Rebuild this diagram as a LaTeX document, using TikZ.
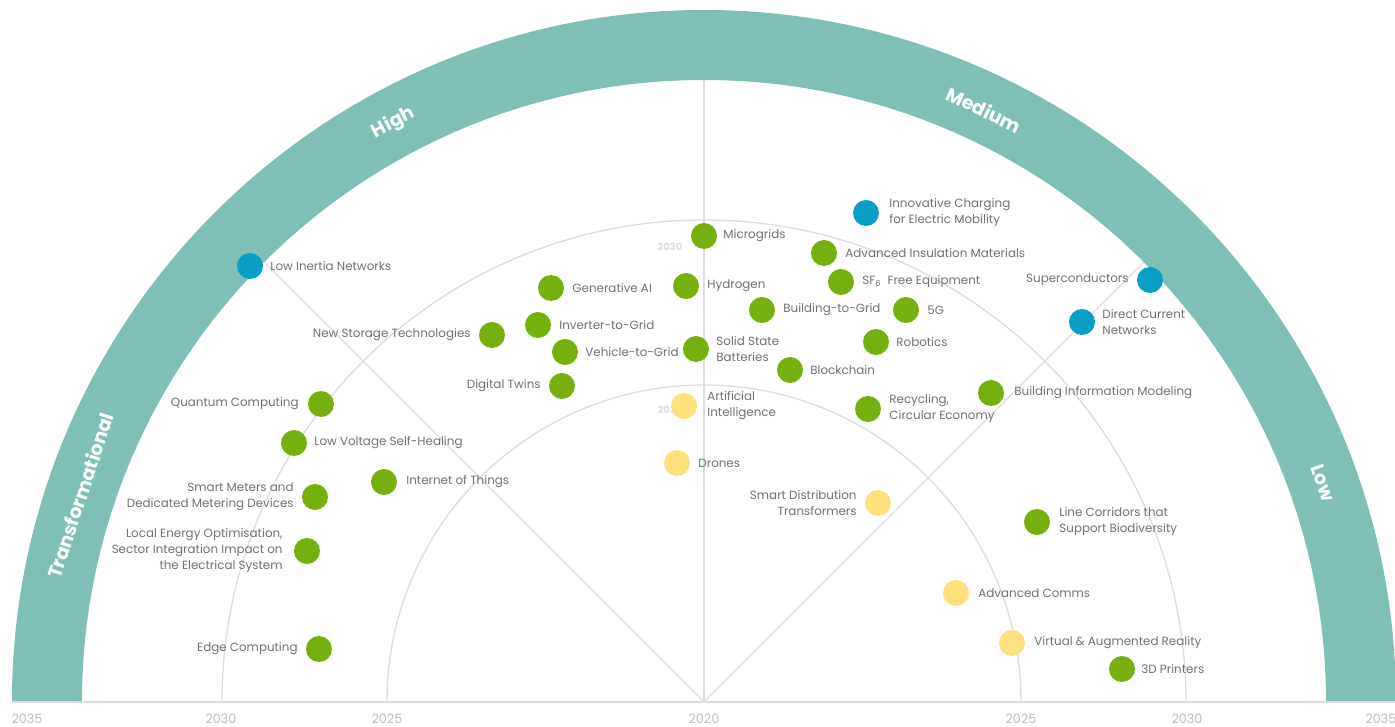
\documentclass[tikz,border=0pt]{standalone}
\usepackage{fontspec}
\setmainfont{Poppins}
\usepackage{tikz}
\usetikzlibrary{positioning}
\definecolor{bandteal}{HTML}{7FBFB7}
\definecolor{dotgreen}{HTML}{76B00F}
\definecolor{dotblue}{HTML}{0A9EC4}
\definecolor{dotyellow}{HTML}{FEE07D}
\definecolor{techgrey}{HTML}{707070}
\definecolor{gridgrey}{HTML}{DCDCDC}
\definecolor{yeargrey}{HTML}{BDBDBD}
\tikzstyle{dot} = [circle, minimum size=26pt, inner sep=0pt]
\tikzstyle{greendot} = [dot, fill=dotgreen]
\tikzstyle{bluedot} = [dot, fill=dotblue]
\tikzstyle{yellowdot} = [dot, fill=dotyellow]
\tikzstyle{tech} = [inner sep=0pt, text=techgrey, font=\fontsize{11.9}{16}\selectfont, align=left]
\tikzstyle{techl} = [tech, align=right]
\tikzstyle{grid} = [line width=1.3pt, draw=gridgrey]
\tikzstyle{year} = [text=yeargrey, font=\fontsize{12.8}{14}\selectfont]
\tikzstyle{inyear} = [text=gridgrey, font=\bfseries\fontsize{10}{12}\selectfont]
\tikzstyle{bandtxt} = [text=white, font=\bfseries\fontsize{19}{22}\selectfont]

\begin{document}
\begin{tikzpicture}[x=1pt, y=1pt]
\useasboundingbox (-704,-24) rectangle (691,702);
% outer band
\fill[bandteal] (-692,0) arc[start angle=180, end angle=0, radius=692pt] -- (622,0) arc[start angle=0, end angle=180, radius=622pt] -- cycle;
\node(high)[bandtxt, rotate=28] at (118.2:657pt){High};
\node(medium)[bandtxt, rotate=-25.3] at (64.7:655pt){Medium};
\node(transf)[bandtxt, rotate=71.7] at (161.7:657pt){Transformational};
\node(low)[bandtxt, rotate=-70.5] at (19.5:657pt){Low};
% grid
\draw[grid] (-692,0) -- (692,0);
\draw[grid] (0,0) -- (0,622);
\draw[grid] (0,0) -- (135:622pt);
\draw[grid] (0,0) -- (45:622pt);
\draw[grid] (-482,0) arc[start angle=180, end angle=0, radius=482pt];
\draw[grid] (-317,0) arc[start angle=180, end angle=0, radius=317pt];
\foreach \r/\yr in {677/2035, 483/2030, 317/2025}{
  \node(yl\yr)[year] at (-\r,-17){\yr};
  \node(yr\yr)[year] at (\r,-17){\yr};
}
\node(y2020)[year] at (0,-17){2020};
\node(in30)[inyear] at (-34,455){2030};
\node(in25)[inyear] at (-34,292){2025};

% technologies
\node(lin)[bluedot] at (-454,436){};
\node[tech, right=7pt of lin]{Low Inertia Networks};
\node(icem)[bluedot] at (162,489){};
\node[tech, right=10pt of icem]{Innovative Charging\\for Electric Mobility};
\node(scond)[bluedot] at (446,422){};
\node[techl, left=8pt of scond]{Superconductors};
\node(dcn)[bluedot] at (378,380){};
\node[tech, right=7pt of dcn]{Direct Current\\Networks};

\node(mgrid)[greendot] at (0,466){};
\node[tech, right=6pt of mgrid]{Microgrids};
\node(aim)[greendot] at (120,449){};
\node[tech, right=8pt of aim]{Advanced Insulation Materials};
\node(sf6)[greendot] at (137,420){};
\node[tech, right=8pt of sf6]{SF\textsubscript{6}\ \ Free Equipment};
\node(genai)[greendot] at (-153,414){};
\node[tech, right=8pt of genai]{Generative AI};
\node(hydro)[greendot] at (-18,416){};
\node[tech, right=8pt of hydro]{Hydrogen};
\node(btg)[greendot] at (58,392){};
\node[tech, right=8pt of btg]{Building-to-Grid};
\node(fiveg)[greendot] at (202,392){};
\node[tech, right=8pt of fiveg]{5G};
\node(itg)[greendot] at (-166,377){};
\node[tech, right=8pt of itg]{Inverter-to-Grid};
\node(nst)[greendot] at (-212,367){};
\node[techl, left=8pt of nst]{New Storage Technologies};
\node(vtg)[greendot] at (-139,350){};
\node[tech, right=7pt of vtg]{Vehicle-to-Grid};
\node(ssb)[greendot] at (-8,353){};
\node[tech, right=7pt of ssb]{Solid State\\Batteries};
\node(robo)[greendot] at (172,360){};
\node[tech, right=7pt of robo]{Robotics};
\node(bchain)[greendot] at (86,332){};
\node[tech, right=7pt of bchain]{Blockchain};
\node(dtwin)[greendot] at (-142,316){};
\node[techl, left=8pt of dtwin]{Digital Twins};
\node(ai)[yellowdot] at (-20,296){};
\node[tech, right=10pt of ai]{Artificial\\Intelligence};
\node(recyc)[greendot] at (164,293){};
\node[tech, right=8pt of recyc]{Recycling,\\Circular Economy};
\node(bim)[greendot] at (287,309){};
\node[tech, right=10pt of bim]{Building Information Modeling};
\node(qc)[greendot] at (-383,298){};
\node[techl, left=9pt of qc]{Quantum Computing};
\node(lvsh)[greendot] at (-410,259){};
\node[tech, right=7pt of lvsh]{Low Voltage Self-Healing};
\node(drones)[yellowdot] at (-27,239){};
\node[tech, right=8pt of drones]{Drones};
\node(smd)[greendot] at (-389,205){};
\node[techl, left=8pt of smd]{Smart Meters and\\Dedicated Metering Devices};
\node(iot)[greendot] at (-320,220){};
\node[tech, right=9pt of iot]{Internet of Things};
\node(sdt)[yellowdot] at (174,199){};
\node[techl, left=8pt of sdt]{Smart Distribution\\Transformers};
\node(lcsb)[greendot] at (333,180){};
\node[tech, right=9pt of lcsb]{Line Corridors that\\Support Biodiversity};
\node(leo)[greendot] at (-397,151){};
\node[techl, left=11pt of leo]{Local Energy Optimisation,\\Sector Integration Impact on\\the Electrical System};
\node(acomms)[yellowdot] at (252,109){};
\node[tech, right=9pt of acomms]{Advanced Comms};
\node(edge)[greendot] at (-385,53){};
\node[techl, left=8pt of edge]{Edge Computing};
\node(vr)[yellowdot] at (308,59){};
\node[tech, right=9pt of vr]{Virtual \& Augmented Reality};
\node(print3d)[greendot] at (418,33){};
\node[tech, right=6pt of print3d]{3D Printers};
\end{tikzpicture}
\end{document}
